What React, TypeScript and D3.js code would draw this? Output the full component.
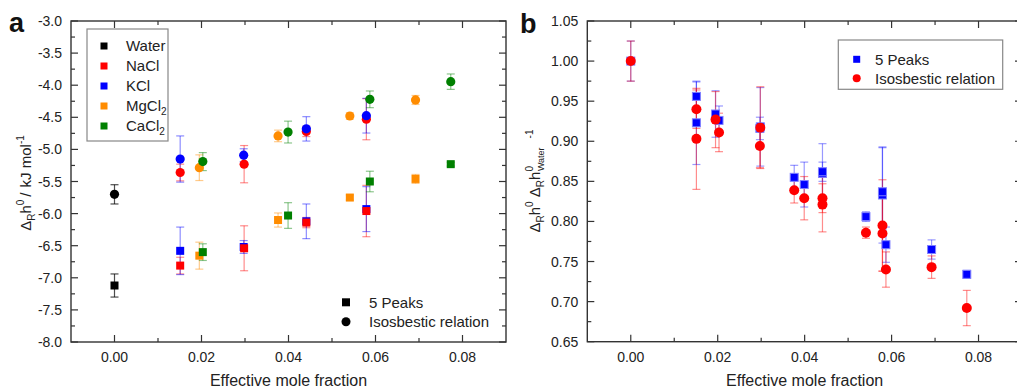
import React from "react";
import * as d3 from "d3";

// ---------- Panel a data ----------
const saltLabels = ["Water", "NaCl", "KCl", "MgCl", "CaCl"];
const saltSubs = ["", "", "", "2", "2"];
const saltColors = ["#000000", "#ff0000", "#0000ff", "#ff8c00", "#008000"];

const waterX = [0];
const waterSq = [-7.12];
const waterSqErr = [0.18];
const waterCi = [-5.7];
const waterCiErr = [0.15];

const naclX = [0.0151, 0.0298, 0.0441, 0.0579];
const naclSq = [-6.81, -6.54, -6.14, -5.96];
const naclSqErr = [0.13, 0.35, 0.08, 0.4];
const naclCi = [-5.36, -5.23, -4.72, -4.53];
const naclCiErr = [0.13, 0.29, 0.08, 0.32];

const kclX = [0.0151, 0.0297, 0.0441, 0.0579];
const kclSq = [-6.58, -6.52, -6.12, -5.93];
const kclSqErr = [0.37, 0.1, 0.27, 0.35];
const kclCi = [-5.15, -5.09, -4.68, -4.475];
const kclCiErr = [0.36, 0.1, 0.19, 0.27];

const mgX = [0.0195, 0.0376, 0.0541, 0.0692];
const mgSq = [-6.655, -6.1, -5.75, -5.46];
const mgSqErr = [0.21, 0.11, 0.04, 0.07];
const mgCi = [-5.285, -4.79, -4.48, -4.23];
const mgCiErr = [0.2, 0.09, 0.05, 0.07];

const caX = [0.0203, 0.0399, 0.0587, 0.0773];
const caSq = [-6.6, -6.03, -5.5, -5.23];
const caSqErr = [0.13, 0.2, 0.16, 0.03];
const caCi = [-5.19, -4.73, -4.22, -3.945];
const caCiErr = [0.14, 0.17, 0.13, 0.12];

// ---------- Panel b data ----------
const bX = [0, 0.0151, 0.0151, 0.0195, 0.0203, 0.0297, 0.0298, 0.0376, 0.0399, 0.0441, 0.0441, 0.0541, 0.0579, 0.0579, 0.0587, 0.0692, 0.0773];
const bSq = [1.0, 0.956, 0.923, 0.934, 0.926, 0.916, 0.918, 0.855, 0.846, 0.86, 0.862, 0.806, 0.833, 0.837, 0.771, 0.765, 0.734];
const bSqErr = [0.025, 0.018, 0.052, 0.029, 0.018, 0.014, 0.049, 0.015, 0.028, 0.037, 0.012, 0.006, 0.06, 0.055, 0.022, 0.012, 0.005];
const bCi = [1.0, 0.94, 0.903, 0.927, 0.911, 0.894, 0.917, 0.839, 0.829, 0.821, 0.829, 0.786, 0.785, 0.795, 0.74, 0.743, 0.692];
const bCiErr = [0.025, 0.024, 0.063, 0.035, 0.024, 0.027, 0.051, 0.016, 0.027, 0.034, 0.018, 0.007, 0.047, 0.057, 0.022, 0.014, 0.022];

// ---------- ticks ----------
const xTicks = [0, 0.02, 0.04, 0.06, 0.08];
const xMinor = [0.01, 0.03, 0.05, 0.07];
const yTicksA = [-8.0, -7.5, -7.0, -6.5, -6.0, -5.5, -5.0, -4.5, -4.0, -3.5, -3.0];
const yTicksB = [0.65, 0.7, 0.75, 0.8, 0.85, 0.9, 0.95, 1.0, 1.05];

const FONT = "'Liberation Sans', Arial, Helvetica, sans-serif";

type Sc = d3.ScaleLinear<number, number>;

function Frame({ x, y, yTicks, yMinor, fmt }: { x: Sc; y: Sc; yTicks: number[]; yMinor: number[]; fmt: (v: number) => string }) {
  const [x0, x1] = x.range();
  const [y1, y0] = y.range();
  const M = 7, m = 4;
  const c = "#333";
  return (
    <g>
      <rect x={x0} y={y0} width={x1 - x0} height={y1 - y0} fill="none" stroke={c} strokeWidth={1.4} />
      {xTicks.map((t) => (
        <g key={"xt" + t}>
          <line x1={x(t)} x2={x(t)} y1={y1} y2={y1 - M} stroke={c} strokeWidth={1.2} />
          <line x1={x(t)} x2={x(t)} y1={y0} y2={y0 + M} stroke={c} strokeWidth={1.2} />
          <text x={x(t)} y={y1 + 20} textAnchor="middle" fontSize={14} fill="#222">{t.toFixed(2)}</text>
        </g>
      ))}
      {xMinor.map((t) => (
        <g key={"xm" + t}>
          <line x1={x(t)} x2={x(t)} y1={y1} y2={y1 - m} stroke={c} strokeWidth={1.2} />
          <line x1={x(t)} x2={x(t)} y1={y0} y2={y0 + m} stroke={c} strokeWidth={1.2} />
        </g>
      ))}
      {yTicks.map((t) => (
        <g key={"yt" + t}>
          <line x1={x0} x2={x0 + M} y1={y(t)} y2={y(t)} stroke={c} strokeWidth={1.2} />
          <line x1={x1} x2={x1 - M} y1={y(t)} y2={y(t)} stroke={c} strokeWidth={1.2} />
          <text x={x0 - 9} y={y(t) + 5} textAnchor="end" fontSize={14} fill="#222">{fmt(t)}</text>
        </g>
      ))}
      {yMinor.map((t) => (
        <g key={"ym" + t}>
          <line x1={x0} x2={x0 + m} y1={y(t)} y2={y(t)} stroke={c} strokeWidth={1.2} />
          <line x1={x1} x2={x1 - m} y1={y(t)} y2={y(t)} stroke={c} strokeWidth={1.2} />
        </g>
      ))}
      <text x={(x0 + x1) / 2} y={386} textAnchor="middle" fontSize={16} fill="#222">Effective mole fraction</text>
    </g>
  );
}

function ErrBar({ cx, ylo, yhi, color, op = 0.5 }: { cx: number; ylo: number; yhi: number; color: string; op?: number }) {
  return (
    <g stroke={color} strokeOpacity={op} strokeWidth={1.2}>
      <line x1={cx} x2={cx} y1={ylo} y2={yhi} />
      <line x1={cx - 4} x2={cx + 4} y1={ylo} y2={ylo} />
      <line x1={cx - 4} x2={cx + 4} y1={yhi} y2={yhi} />
    </g>
  );
}

export default function App() {
  const xa = d3.scaleLinear().domain([-0.01, 0.09]).range([71, 506]);
  const ya = d3.scaleLinear().domain([-8, -3]).range([342, 21]);
  const xb = d3.scaleLinear().domain([-0.01, 0.09]).range([587.3, 1022]);
  const yb = d3.scaleLinear().domain([0.65, 1.05]).range([341.7, 21]);

  const series = [
    { x: waterX, sq: waterSq, sqE: waterSqErr, ci: waterCi, ciE: waterCiErr },
    { x: naclX, sq: naclSq, sqE: naclSqErr, ci: naclCi, ciE: naclCiErr },
    { x: kclX, sq: kclSq, sqE: kclSqErr, ci: kclCi, ciE: kclCiErr },
    { x: mgX, sq: mgSq, sqE: mgSqErr, ci: mgCi, ciE: mgCiErr },
    { x: caX, sq: caSq, sqE: caSqErr, ci: caCi, ciE: caCiErr },
  ];
  const sqOrder = [0, 2, 1, 3, 4];
  const ciOrder = [0, 1, 2, 3, 4];

  const yMinorA = yTicksA.slice(0, -1).map((t) => t + 0.25);
  const yMinorB = yTicksB.slice(0, -1).map((t) => t + 0.025);

  const sqS = 8;
  const cr = 4.6;

  return (
    <div style={{ position: "absolute", left: 0, top: 0 }}>
      <svg width={1017} height={390} style={{ display: "block", fontFamily: FONT }}>
        <rect width={1017} height={390} fill="#fff" />
        {/* ---------- Panel a ---------- */}
        <text x={9} y={32} fontSize={27} fontWeight="bold" fill="#111">a</text>
        <Frame x={xa} y={ya} yTicks={yTicksA} yMinor={yMinorA} fmt={(v) => v.toFixed(1)} />
        <text transform="translate(31,183) rotate(-90)" textAnchor="middle" fontSize={15} fill="#222">
          Δ<tspan dy={4} fontSize={10}>R</tspan>
          <tspan dy={-4}>h</tspan>
          <tspan dy={-7} fontSize={10}>0</tspan>
          <tspan dy={7} dx={3}>/</tspan>
          <tspan dx={5}>kJ mol</tspan>
          <tspan dy={-7} fontSize={10}>-1</tspan>
        </text>
        {/* error bars */}
        {series.map((s, i) =>
          s.x.map((xv, j) => (
            <g key={`e${i}-${j}`}>
              <ErrBar cx={xa(xv)} ylo={ya(s.sq[j] - s.sqE[j])} yhi={ya(s.sq[j] + s.sqE[j])} color={saltColors[i]} op={i === 0 ? 0.7 : 0.45} />
              <ErrBar cx={xa(xv)} ylo={ya(s.ci[j] - s.ciE[j])} yhi={ya(s.ci[j] + s.ciE[j])} color={saltColors[i]} op={i === 0 ? 0.7 : 0.45} />
            </g>
          ))
        )}
        {sqOrder.map((i) =>
          series[i].x.map((xv, j) => (
            <rect key={`s${i}-${j}`} x={xa(xv) - sqS / 2} y={ya(series[i].sq[j]) - sqS / 2} width={sqS} height={sqS} fill={saltColors[i]} />
          ))
        )}
        {ciOrder.map((i) =>
          series[i].x.map((xv, j) => (
            <circle key={`c${i}-${j}`} cx={xa(xv)} cy={ya(series[i].ci[j])} r={cr} fill={saltColors[i]} />
          ))
        )}
        {/* legend a */}
        <rect x={87} y={29} width={81} height={112} fill="#fff" stroke="#888" strokeWidth={1.2} />
        {saltLabels.map((lab, i) => {
          const yy = 46 + i * 20;
          return (
            <g key={"lg" + i}>
              <rect x={104 - 3.5} y={yy - 3.5} width={7} height={7} fill={saltColors[i]} />
              <text x={126} y={yy + 5} fontSize={15} fill="#222">
                {lab}
                {saltSubs[i] ? <tspan dy={4} fontSize={10}>{saltSubs[i]}</tspan> : null}
              </text>
            </g>
          );
        })}
        <rect x={346 - 4} y={302.3 - 4} width={8} height={8} fill="#000" />
        <text x={369} y={307.5} fontSize={15} fill="#222">5 Peaks</text>
        <circle cx={346} cy={321.7} r={4.5} fill="#000" />
        <text x={369} y={327} fontSize={15} fill="#222">Isosbestic relation</text>

        {/* ---------- Panel b ---------- */}
        <text x={520} y={33} fontSize={27} fontWeight="bold" fill="#111">b</text>
        <Frame x={xb} y={yb} yTicks={yTicksB} yMinor={yMinorB} fmt={(v) => v.toFixed(2)} />
        <text transform="translate(540,181) rotate(-90)" textAnchor="middle" fontSize={15} fill="#222">
          Δ<tspan dy={4} fontSize={10}>R</tspan>
          <tspan dy={-4}>h</tspan>
          <tspan dy={-7} fontSize={10}>0</tspan>
          <tspan dy={7}>{"\u00a0Δ"}</tspan>
          <tspan dy={4} fontSize={10}>R</tspan>
          <tspan dy={-4}>h</tspan>
          <tspan dy={-7} fontSize={10}>0</tspan>
          <tspan dx={-5} dy={11} fontSize={9}>Water</tspan>
          <tspan dx={9} dy={-11} fontSize={10}>-1</tspan>
        </text>
        {bX.map((xv, j) => (
          <ErrBar key={"bse" + j} cx={xb(xv)} ylo={yb(bSq[j] - bSqErr[j])} yhi={yb(bSq[j] + bSqErr[j])} color="#0000ff" op={0.4} />
        ))}
        {bX.map((xv, j) => (
          <ErrBar key={"bce" + j} cx={xb(xv)} ylo={yb(bCi[j] - bCiErr[j])} yhi={yb(bCi[j] + bCiErr[j])} color="#ff0000" op={0.45} />
        ))}
        {bX.map((xv, j) => (
          <rect key={"bs" + j} x={xb(xv) - 4} y={yb(bSq[j]) - 4} width={8} height={8} fill="#0000ff" stroke="#8080ff" strokeWidth={1} />
        ))}
        {bX.map((xv, j) => (
          <circle key={"bc" + j} cx={xb(xv)} cy={yb(bCi[j])} r={5} fill="#ff0000" />
        ))}
        {/* legend b */}
        <rect x={838.3} y={40} width={164.4} height={49.3} fill="#fff" stroke="#888" strokeWidth={1.2} />
        <rect x={856.7 - 3.5} y={59.3 - 3.5} width={7} height={7} fill="#0000ff" />
        <text x={875} y={64.5} fontSize={15} fill="#222">5 Peaks</text>
        <circle cx={856.7} cy={78.3} r={4} fill="#ff0000" />
        <text x={875} y={83.5} fontSize={15} fill="#222">Isosbestic relation</text>
      </svg>
    </div>
  );
}
